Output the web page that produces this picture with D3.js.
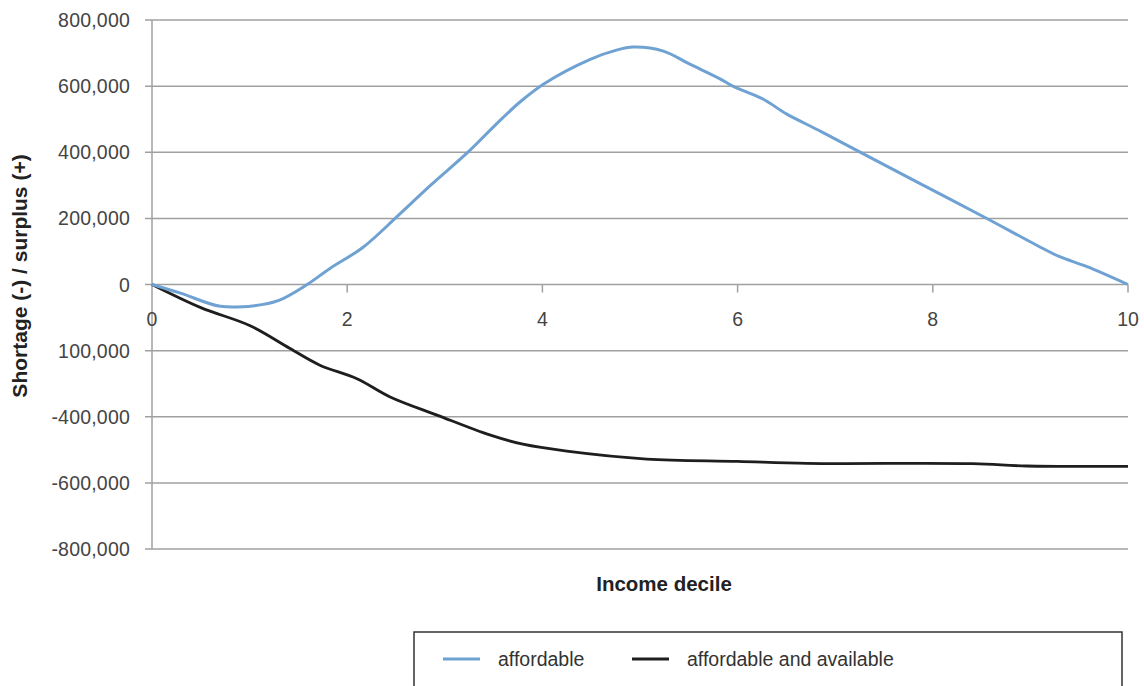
<!DOCTYPE html>
<html><head><meta charset="utf-8">
<script src="https://cdn.jsdelivr.net/npm/d3@7"></script>
<style>body{margin:0;background:#fff}svg{display:block}text{font-family:"Liberation Sans",Arial,sans-serif}</style>
</head><body><svg id="c" width="1144" height="686"></svg>
<script>
const yTickValues = [800000,600000,400000,200000,0,-200000,-400000,-600000,-800000];
const yTickLabels = ["800,000","600,000","400,000","200,000","0","100,000","-400,000","-600,000","-800,000"];
const xTickValues = [0,2,4,6,8,10];

const affordableX = [0,0.3,0.7,1.05,1.3,1.59,1.82,2.16,2.51,2.85,3.24,3.53,3.77,4.01,4.49,4.75,4.93,5.24,5.5,5.82,5.95,6.26,6.5,6.84,7.25,7.87,8.52,9.07,9.3,9.58,10];
const affordableY = [0,-27000,-66000,-64000,-48000,0,48000,112000,205000,299000,401000,486000,552000,606000,681000,708000,718000,706000,668000,622000,600000,561000,516000,465000,401000,305000,205000,118000,84000,54000,0];

const availX = [0,0.5,1.0,1.41,1.72,2.1,2.44,2.92,3.46,3.8,4.25,5.07,6.0,6.71,8.41,8.96,10];
const availY = [0,-70000,-124000,-193000,-244000,-285000,-340000,-395000,-455000,-483000,-504000,-528000,-535000,-541000,-542000,-549000,-550000];

const seriesNames = ["affordable","affordable and available"];
const seriesColors = ["#6fa2d3","#1e1e1e"];

const svg = d3.select("#c");
const x = d3.scaleLinear().domain([0,10]).range([152,1128]);
const y = d3.scaleLinear().domain([-800000,800000]).range([549,20]);
const grid = "#a0a0a0";

// gridlines
svg.append("g").selectAll("line").data(yTickValues).join("line")
  .attr("x1",145).attr("x2",1128).attr("y1",d=>y(d)).attr("y2",d=>y(d))
  .attr("stroke",grid).attr("stroke-width",1.5);
// y axis line
svg.append("line").attr("x1",x(0)).attr("x2",x(0)).attr("y1",y(800000)).attr("y2",y(-800000))
  .attr("stroke",grid).attr("stroke-width",1.5);
// y labels
svg.append("g").selectAll("text").data(yTickValues).join("text")
  .attr("x",130).attr("y",d=>y(d)+7).attr("text-anchor","end")
  .attr("font-size",19.5).attr("fill","#444").attr("letter-spacing","0.2")
  .text((d,i)=>yTickLabels[i]);
// x ticks
svg.append("g").selectAll("line").data(xTickValues.filter(d=>d>0)).join("line")
  .attr("x1",d=>x(d)).attr("x2",d=>x(d)).attr("y1",y(0)).attr("y2",y(0)+8)
  .attr("stroke",grid).attr("stroke-width",1.5);
svg.append("g").selectAll("text").data(xTickValues).join("text")
  .attr("x",d=>x(d)).attr("y",y(0)+41).attr("text-anchor","middle")
  .attr("font-size",19.5).attr("fill","#444").text(d=>d);

// lines
const line = d3.line().x(d=>x(d[0])).y(d=>y(d[1])).curve(d3.curveCatmullRom.alpha(0.5));
svg.append("path").datum(availX.map((v,i)=>[v,availY[i]]))
  .attr("d",line).attr("fill","none").attr("stroke",seriesColors[1]).attr("stroke-width",2.8);
svg.append("path").datum(affordableX.map((v,i)=>[v,affordableY[i]]))
  .attr("d",line).attr("fill","none").attr("stroke",seriesColors[0]).attr("stroke-width",3);

// titles
svg.append("text").attr("x",664).attr("y",591).attr("text-anchor","middle")
  .attr("font-size",20.5).attr("font-weight","bold").attr("fill","#222").text("Income decile");
svg.append("text").attr("transform","translate(27,276) rotate(-90)").attr("text-anchor","middle")
  .attr("font-size",21).attr("font-weight","bold").attr("fill","#222").text("Shortage (-) / surplus (+)");

// legend
svg.append("rect").attr("x",414).attr("y",632).attr("width",708).attr("height",80)
  .attr("fill","none").attr("stroke","#333").attr("stroke-width",1.5);
const lx = [443,632];
seriesNames.forEach((n,i)=>{
  svg.append("line").attr("x1",lx[i]).attr("x2",lx[i]+37).attr("y1",659).attr("y2",659)
    .attr("stroke",seriesColors[i]).attr("stroke-width",3);
  svg.append("text").attr("x",lx[i]+55).attr("y",666).attr("font-size",19.5).attr("fill","#333")
    .text(n);
});
</script></body></html>
